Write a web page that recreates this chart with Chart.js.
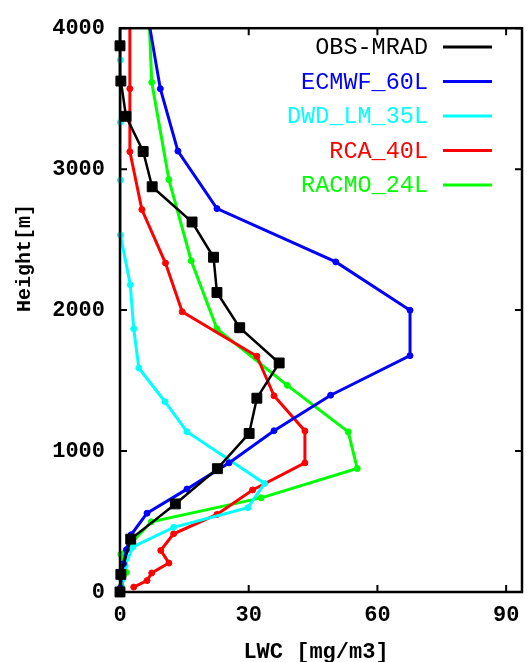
<!DOCTYPE html>
<html>
<head>
<meta charset="utf-8">
<script src="https://cdn.jsdelivr.net/npm/chart.js@4/dist/chart.umd.min.js"></script>
<style>
  body { margin: 0; background: #fff; }
  #wrap { width: 530px; height: 662px; }
</style>
</head>
<body>
<div id="wrap"><canvas id="lwcChart"></canvas></div>
<script>
// LWC profiles: value [mg/m3] at height [m]

const obsHeight = [0, 125, 375, 625, 875, 1125, 1375, 1625, 1875, 2125, 2375, 2625, 2875, 3125, 3375, 3625, 3875, 4125];
const obsLwc    = [0, 0.2, 2.5, 12.9, 22.7, 30.1, 31.9, 37.1, 27.9, 22.6, 21.8, 16.8, 7.5, 5.4, 1.4, 0.2, 0, 0];

const ecmwfHeight = [30, 110, 200, 300, 406, 559, 730, 916, 1144, 1396, 1677, 1999, 2342, 2720, 3128, 3571, 4120];
const ecmwfLwc    = [0.1, 0.3, 0.8, 1.5, 2.6, 6.3, 15.6, 25.4, 35.9, 49.1, 67.6, 67.6, 50.3, 22.6, 13.5, 9.4, 6.3];

const dwdHeight = [25, 90, 186, 320, 459, 598, 770, 1137, 1350, 1589, 1867, 2180, 2532, 2922, 3332, 3775, 4250];
const dwdLwc    = [0.1, 0.4, 1.2, 3.0, 12.5, 29.8, 33.7, 15.6, 10.5, 4.4, 3.2, 2.4, 0.1, 0.1, 0.1, 0.1, 0.1];

const rcaHeight = [35, 81, 135, 205, 295, 413, 550, 724, 916, 1143, 1392, 1673, 1988, 2334, 2713, 3124, 3571, 4100];
const rcaLwc    = [3.2, 6.3, 7.4, 11.4, 9.5, 12.5, 22.6, 30.9, 43.1, 43.1, 35.9, 31.9, 14.5, 10.6, 5.1, 2.3, 2.3, 2.3];

const racmoHeight = [40, 139, 268, 498, 668, 876, 1136, 1466, 1867, 2350, 2926, 3616, 4200];
const racmoLwc    = [0.3, 1.5, 0.2, 7.3, 32.9, 55.3, 53.2, 39.0, 22.6, 16.6, 11.4, 7.4, 6.6];

const xTicks = [0, 30, 60, 90];
const yTicks = [0, 1000, 2000, 3000, 4000];

const seriesNames = ['OBS-MRAD', 'ECMWF_60L', 'DWD_LM_35L', 'RCA_40L', 'RACMO_24L'];
const seriesColors = ['#000000', '#0000ff', '#00ffff', '#ff0000', '#00ff00'];

const fontFamily = '"Liberation Mono", "Courier New", monospace';

function toPoints(values, heights) {
    return values.map((v, i) => ({ x: v, y: heights[i] }));
}

function makeDataset(i, values, heights) {
    const isObs = i === 0;
    return {
        label: seriesNames[i],
        data: toPoints(values, heights),
        showLine: true,
        borderColor: seriesColors[i],
        backgroundColor: seriesColors[i],
        borderWidth: isObs ? 2.5 : 3,
        pointStyle: isObs ? 'rect' : 'circle',
        pointRadius: isObs ? 7 : 3,
        pointBorderWidth: 1,
        pointHoverRadius: isObs ? 7 : 3,
        clip: { left: 10, top: 0, right: 0, bottom: 10 }
    };
}

// frame with inward ticks, legend and axis titles, gnuplot style
const framePlugin = {
    id: 'frame',
    afterDatasetsDraw(chart) {
        const { ctx, chartArea: a, scales } = chart;
        const x = scales.x, y = scales.y;
        ctx.save();
        ctx.strokeStyle = '#000';
        ctx.lineWidth = 2.5;
        ctx.strokeRect(a.left, a.top, a.right - a.left, a.bottom - a.top);

        ctx.lineWidth = 2;
        ctx.beginPath();
        xTicks.forEach(v => {
            const px = x.getPixelForValue(v);
            ctx.moveTo(px, a.bottom); ctx.lineTo(px, a.bottom - 7);
            ctx.moveTo(px, a.top); ctx.lineTo(px, a.top + 7);
        });
        yTicks.forEach(v => {
            const py = y.getPixelForValue(v);
            ctx.moveTo(a.left, py); ctx.lineTo(a.left + 7, py);
            ctx.moveTo(a.right, py); ctx.lineTo(a.right - 7, py);
        });
        ctx.stroke();

        // legend
        ctx.font = '23.5px ' + fontFamily;
        ctx.textAlign = 'right';
        ctx.textBaseline = 'middle';
        seriesNames.forEach((name, i) => {
            const ly = 47 + i * 34.5;
            ctx.fillStyle = seriesColors[i];
            ctx.fillText(name, 428, ly + 1);
            ctx.strokeStyle = seriesColors[i];
            ctx.lineWidth = 3;
            ctx.beginPath();
            ctx.moveTo(443, ly);
            ctx.lineTo(492, ly);
            ctx.stroke();
        });

        // axis titles
        ctx.fillStyle = '#000';
        ctx.textAlign = 'center';
        ctx.font = 'bold 22px ' + fontFamily;
        ctx.fillText('LWC [mg/m3]', 316, 652);
        ctx.translate(25, 258);
        ctx.rotate(-Math.PI / 2);
        ctx.font = 'bold 20px ' + fontFamily;
        ctx.fillText('Height[m]', 0, 0);
        ctx.restore();
    }
};

const ctx = document.getElementById('lwcChart').getContext('2d');
new Chart(ctx, {
    type: 'scatter',
    data: {
        datasets: [
            makeDataset(0, obsLwc, obsHeight),
            makeDataset(1, ecmwfLwc, ecmwfHeight),
            makeDataset(2, dwdLwc, dwdHeight),
            makeDataset(3, rcaLwc, rcaHeight),
            makeDataset(4, racmoLwc, racmoHeight)
        ]
    },
    options: {
        responsive: true,
        maintainAspectRatio: false,
        animation: false,
        layout: { padding: { top: 17, right: 8, left: 0, bottom: 0 } },
        plugins: {
            legend: { display: false },
            tooltip: { enabled: false }
        },
        scales: {
            x: {
                type: 'linear',
                min: 0,
                max: 93.7,
                grid: { display: false, drawTicks: false },
                border: { display: false },
                afterBuildTicks: scale => { scale.ticks = xTicks.map(v => ({ value: v })); },
                afterFit: scale => { scale.height = 70; },
                ticks: {
                    padding: 10,
                    color: '#000',
                    maxRotation: 0,
                    callback: value => String(value),
                    font: { family: fontFamily, size: 22, weight: 'bold' }
                }
            },
            y: {
                type: 'linear',
                min: 0,
                max: 4000,
                grid: { display: false, drawTicks: false },
                border: { display: false },
                afterBuildTicks: scale => { scale.ticks = yTicks.map(v => ({ value: v })); },
                afterFit: scale => { scale.width = 120; },
                ticks: {
                    padding: 15,
                    color: '#000',
                    callback: value => String(value),
                    font: { family: fontFamily, size: 22, weight: 'bold' }
                }
            }
        }
    },
    plugins: [framePlugin]
});
</script>
</body>
</html>
